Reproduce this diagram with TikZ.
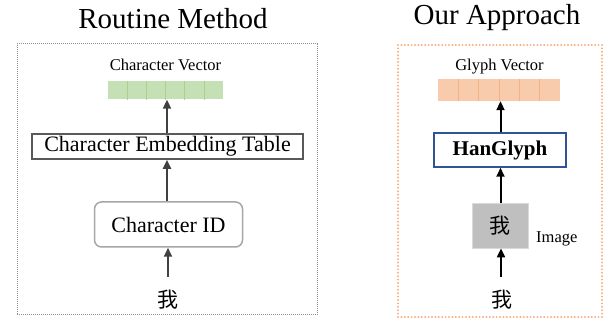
\documentclass[tikz,border=0pt]{standalone}
\usepackage{fontspec}
\setmainfont{Liberation Serif}
\newfontfamily\cjk{Noto Sans CJK SC}
\usetikzlibrary{arrows.meta,calc}
\definecolor{frameGray}{HTML}{909090}
\definecolor{frameOrange}{HTML}{F4B183}
\definecolor{barGreen}{HTML}{C5E0B4}
\definecolor{divGreen}{HTML}{A9D18E}
\definecolor{barOrange}{HTML}{F8CBAD}
\definecolor{divOrange}{HTML}{F4B183}
\definecolor{tableGray}{HTML}{595959}
\definecolor{idGray}{HTML}{A6A6A6}
\definecolor{hanBlue}{HTML}{2F5597}
\definecolor{imgGray}{HTML}{BFBFBF}
\definecolor{imgBorder}{HTML}{D9D9D9}
\definecolor{arrGray}{HTML}{404040}
\tikzset{
  framebox/.style={draw, inner sep=0pt},
  titletext/.style={font=\fontsize{29}{32}\selectfont, anchor=base, inner sep=0pt},
  labeltext/.style={font=\fontsize{16.5}{18}\selectfont, anchor=base, inner sep=0pt},
  bar/.style={inner sep=0pt, draw=none},
  procbox/.style={inner sep=0pt, font=\fontsize{22}{24}\selectfont},
  wochar/.style={font=\cjk\fontsize{21}{24}\selectfont, inner sep=0pt},
  arrL/.style={draw=arrGray, line width=2pt, -{Triangle[length=9pt,width=8pt]}},
  arrR/.style={draw=black, line width=2pt, -{Triangle[length=9pt,width=8pt]}},
}
\begin{document}
\begin{tikzpicture}[x=1pt,y=-1pt]
\useasboundingbox (0,0) rectangle (608,320);
\coordinate (lx) at (167,0);
\coordinate (rx) at (500.5,0);
% ---------- left: routine method ----------
\node[framebox, draw=frameGray, densely dotted, line width=1pt, minimum width=300, minimum height=271] (lframe) at (167,179.5) {};
\node[titletext] (ltitle) at (173,29) {Routine Method};
\node[labeltext] (cvlabel) at (165.5,71) {Character Vector};
\node[bar, fill=barGreen, minimum width=115, minimum height=18] (gbar) at (165.5,90.5) {};
\foreach \i in {1,...,5}
  \draw[divGreen, line width=0.8pt] ($(gbar.south west)!\i/6!(gbar.south east)$) -- ($(gbar.north west)!\i/6!(gbar.north east)$);
\node[procbox, draw=tableGray, line width=1.6pt, minimum width=271, minimum height=25] (table) at (167.5,146.5) {Character Embedding Table};
\node[procbox, draw=idGray, line width=1.5pt, rounded corners=7pt, minimum width=148, minimum height=45] (cid) at (168.5,224.5) {Character ID};
\node[wochar] (wol) at (168,300) {我};
\coordinate (wolTop) at (168,277);
\draw[arrL] (wolTop) -- (wolTop |- cid.south);
\draw[arrL] (table.north -| lx) -- (gbar.south -| lx);
\draw[arrL] (cid.north -| lx) -- (table.south -| lx);
% ---------- right: our approach ----------
\node[framebox, draw=frameOrange, line width=2.2pt, dash pattern=on 0pt off 3.4pt, line cap=round, minimum width=204, minimum height=272] (rframe) at (500,181) {};
\node[titletext] (rtitle) at (497,25) {Our Approach};
\node[labeltext] (gvlabel) at (499.5,71) {Glyph Vector};
\node[bar, fill=barOrange, minimum width=122, minimum height=22] (obar) at (499,90) {};
\foreach \i in {1,...,5}
  \draw[divOrange, line width=0.8pt] ($(obar.south west)!\i/6!(obar.south east)$) -- ($(obar.north west)!\i/6!(obar.north east)$);
\node[procbox, draw=hanBlue, line width=1.5pt, minimum width=132, minimum height=34, font=\bfseries\fontsize{21}{24}\selectfont] (han) at (500,150) {HanGlyph};
\node[wochar, fill=imgGray, draw=imgBorder, line width=0.8pt, minimum width=56, minimum height=45] (img) at (500,225.5) {我};
\node[labeltext, anchor=base west] (imglabel) at (536,243) {Image};
\node[wochar] (wor) at (502,300) {我};
\coordinate (worTop) at (501,277);
\draw[arrR] (worTop) -- (worTop |- img.south);
\draw[arrR] (img.north -| rx) -- (han.south -| rx);
\draw[arrR] (han.north -| rx) -- (obar.south -| rx);
\end{tikzpicture}
\end{document}
